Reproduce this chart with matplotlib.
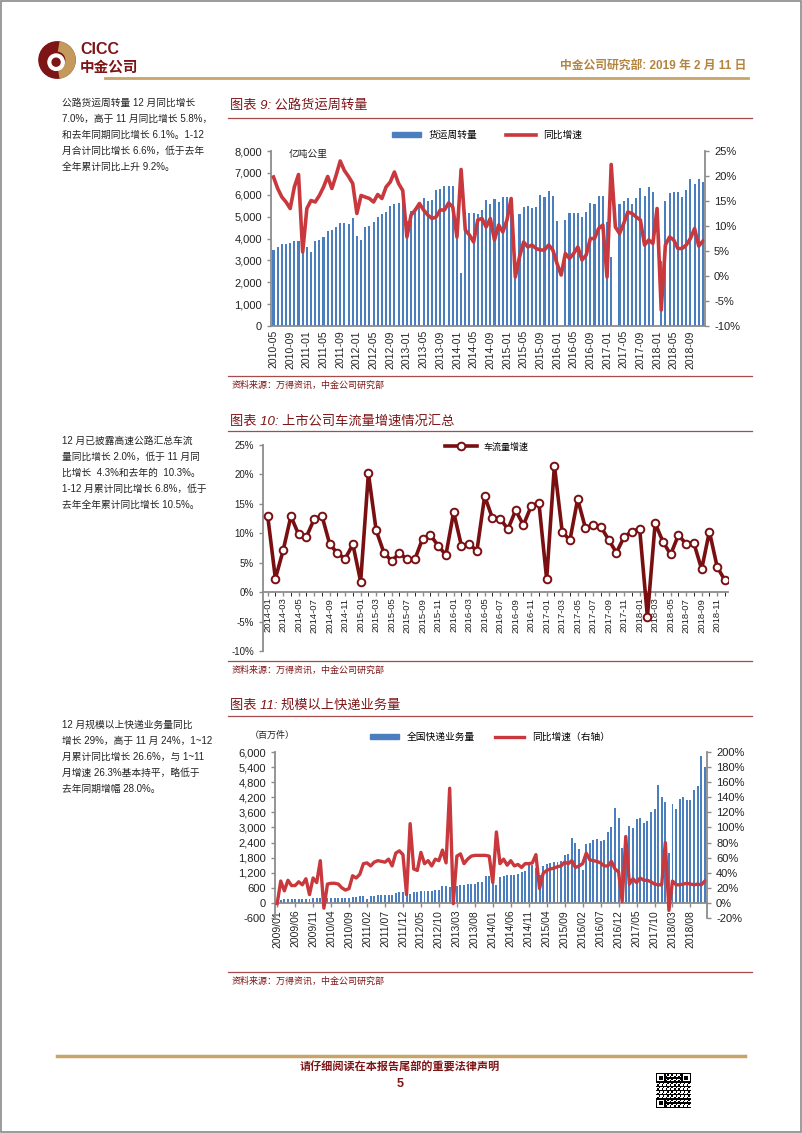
import numpy as np
import pandas as pd
import matplotlib
matplotlib.use('Agg')
import matplotlib.pyplot as plt
from matplotlib.patches import Rectangle, Circle, Wedge, Patch
from matplotlib.lines import Line2D
from matplotlib.ticker import FuncFormatter, MultipleLocator

plt.rcParams['font.family'] = ['Liberation Sans', 'Noto Sans CJK SC']
plt.rcParams['axes.unicode_minus'] = False

# ---------------- data ----------------
# Figure 9: road freight turnover (100m ton-km) and yoy growth (%)
freight_months = pd.date_range('2010-05', periods=104, freq='MS').strftime('%Y-%m').tolist()
freight_volume = [3480, 3620, 3750, 3740, 3800, 3880, 3880, 3850,
                  3620, 3400, 3880, 3920, 4080, 4350, 4380, 4520, 4700, 4720, 4660, 4950,
                  4100, 3950, 4520, 4560, 4750, 4980, 5100, 5200, 5500, 5600, 5620, 5830,
                  4780, 5250, 5400, 5600, 5850, 5700, 5750, 6200, 6280, 6380, 6400, 6420,
                  4100, 2430, 5200, 5150, 5150, 5100, 5300, 5750, 5600, 5820, 5650, 5900,
                  5880, 5200, 2800, 5100, 5450, 5500, 5400, 5450, 5980, 5900, 6180, 5950,
                  4790, np.nan, 4840, 5160, 5170, 5170, 5000, 5200, 5630, 5600, 5940, 5940,
                  4760, 3160, np.nan, 5570, 5700, 5830, 5600, 5830, 6290, 5940, 6360, 6130,
                  np.nan, 2950, 5700, 6060, 6130, 6130, 5900, 6200, 6740, 6500, 6740, 6600]
freight_yoy = [19.8, 17.5, 15.8, 14.8, 13.5, 17.8, 20.3, 4.8,
               13.5, 15.1, 14.8, 16.1, 17.8, 19.9, 17.5, 20.1, 23.0, 21.1, 19.9, 18.5,
               12.5, 16.1, 15.8, 15.5, 14.8, 16.3, 15.5, 17.8, 18.8, 20.8, 18.5, 17.1,
               7.8, 12.2, 13.2, 14.5, 13.2, 12.2, 11.5, 11.8, 13.2, 13.2, 14.6, 13.8,
               7.8, 21.3, 9.2, 8.2, 6.8, 11.2, 11.5, 9.8, 11.5, 7.2, 10.2, 8.8,
               11.2, 15.5, -0.2, 3.8, 6.8, 5.8, 6.2, 5.5, 5.2, 5.2, 6.2, 5.2,
               2.5, 0.2, 4.5, 3.5, 4.5, 5.8, 3.2, 4.2, 7.5, 7.5, 9.5, 10.2,
               -0.2, 22.3, 9.8, 8.5, 10.5, 12.8, 12.5, 11.8, 11.2, 6.2, 7.2, 6.5,
               13.5, -6.8, 6.2, 7.8, 7.2, 5.5, 5.5, 6.2, 7.5, 9.5, 6.0, 7.0]

# Figure 10: listed toll-road traffic growth (%)
traffic_months = pd.date_range('2014-01', periods=60, freq='MS').strftime('%Y-%m').tolist()
traffic_yoy = [13.0, 2.3, 7.1, 12.9, 9.8, 9.4, 12.4, 13.0, 8.2, 6.6, 5.7, 8.1,
               1.8, 20.2, 10.5, 6.7, 5.3, 6.6, 5.6, 5.6, 9.1, 9.7, 7.9, 6.3,
               13.6, 7.9, 8.2, 7.0, 16.3, 12.6, 12.5, 10.7, 13.9, 11.4, 14.6, 15.2,
               2.2, 21.5, 10.3, 8.8, 15.8, 10.9, 11.4, 11.1, 8.9, 6.7, 9.4, 10.3,
               10.8, -4.2, 11.7, 8.6, 6.4, 9.7, 8.2, 8.3, 3.9, 10.3, 4.3, 2.0]

# Figure 11: express parcels (million pieces) and yoy growth (%)
express_months = pd.date_range('2009-01', periods=120, freq='MS').strftime('%Y/%m').tolist()
express_volume = [130, 110, 140, 140, 140, 150, 150, 155, 165, 170, 190, 190,
                  190, 110, 180, 185, 190, 195, 195, 200, 210, 230, 250, 260,
                  270, 175, 285, 290, 300, 305, 305, 320, 320, 380, 430, 440,
                  310, 360, 420, 420, 490, 470, 480, 480, 510, 530, 660, 690,
                  650, 400, 690, 700, 730, 740, 740, 760, 820, 820, 1060, 1080,
                  1000, 700, 1030, 1060, 1110, 1120, 1110, 1140, 1230, 1270, 1500, 1510,
                  1400, 1100, 1450, 1530, 1600, 1620, 1640, 1680, 1900, 1940, 2600, 2400,
                  2150, 1300, 2350, 2400, 2520, 2560, 2480, 2520, 2820, 3020, 3780, 3380,
                  2200, 2550, 3050, 2990, 3330, 3380, 3180, 3260, 3600, 3750, 4700, 4200,
                  4000, 2000, 3950, 3750, 4150, 4200, 4080, 4100, 4500, 4650, 5850, 5400]
express_yoy = [-1, 29, 16, 30, 23, 23, 28, 24, 32, 11, 33, 27,
               56, -7, 25, 26, 26, 25, 20, 17, 19, 36, 33, 38,
               52, 53, 49, 54, 56, 55, 54, 58, 49, 66, 69, 64,
               11, 105, 45, 43, 67, 52, 56, 49, 58, 56, 70, 53,
               152, -1, 62, 65, 52, 58, 62, 63, 63, 63, 63, 62,
               27, 94, 52, 58, 50, 56, 49, 51, 47, 52, 52, 53,
               64, 19, 39, 43, 45, 46, 48, 49, 54, 52, 56, 47,
               49, 52, 66, 57, 56, 55, 53, 49, 49, 55, 45, 41,
               2, 88, 25, 32, 27, 33, 30, 30, 28, 25, 24, 24,
               80, -10, 29, 24, 24, 25, 26, 25, 24, 25, 24, 29]

left_notes = [
    ["公路货运周转量 12 月同比增长", "7.0%，高于 11 月同比增长 5.8%，",
     "和去年同期同比增长 6.1%。1-12", "月合计同比增长 6.6%，低于去年",
     "全年累计同比上升 9.2%。"],
    ["12 月已披露高速公路汇总车流", "量同比增长 2.0%，低于 11 月同",
     "比增长  4.3%和去年的  10.3%。", "1-12 月累计同比增长 6.8%，低于",
     "去年全年累计同比增长 10.5%。"],
    ["12 月规模以上快递业务量同比", "增长 29%，高于 11 月 24%，1~12",
     "月累计同比增长 26.6%，与 1~11", "月增速 26.3%基本持平，略低于",
     "去年同期增幅 28.0%。"],
]

# ---------------- page ----------------
W, H = 802, 1133
DARK = '#7d1416'
GOLD = '#c9a46a'
BLUE = '#4a7ebf'
RED = '#c8383c'
GRAY = '#8c8c8c'


def box(x0, y0, x1, y1):
    return [x0 / W, 1 - y1 / H, (x1 - x0) / W, (y1 - y0) / H]


def ftext(x, y, s, **kw):
    fig.text(x / W, 1 - y / H, s, **kw)


def hline(x0, x1, y, **kw):
    fig.add_artist(Line2D([x0 / W, x1 / W], [1 - y / H, 1 - y / H], **kw))


fig = plt.figure(figsize=(W / 100, H / 100), dpi=100)
fig.add_artist(Rectangle((0.001, 0.001), 0.998, 0.998, transform=fig.transFigure,
                         fill=False, edgecolor='#8a8a8a', lw=1.2))

# logo
lax = fig.add_axes(box(38, 40, 76, 80))
lax.add_patch(Circle((0, 0), 1.0, color=DARK))
lax.add_patch(Wedge((0, 0), 1.0, -80, 80, width=0.5, color='#c49a5c'))
lax.add_patch(Circle((-0.05, -0.12), 0.45, color='white'))
lax.add_patch(Circle((-0.05, -0.12), 0.22, color=DARK))
lax.set_xlim(-1.05, 1.05)
lax.set_ylim(-1.1, 1.1)
lax.axis('off')
ftext(80, 50, 'CICC', fontsize=11.5, fontweight='bold', color=DARK, va='center')
ftext(80, 68, '中金公司', fontsize=10.5, fontweight='bold', color=DARK, va='center')
ftext(746, 66, '中金公司研究部: 2019 年 2 月 11 日', fontsize=8.5, color='#b38440',
      ha='right', va='center', fontweight='bold')
hline(105, 748, 78, color=GOLD, lw=2)

# left column notes
for lines, y0 in zip(left_notes, [103, 441, 725]):
    for k, s in enumerate(lines):
        ftext(62, y0 + 16 * k, s, fontsize=7, color='#222222', va='center')

# chart titles and source lines
for title, yt, yl, ys in [('图表 9: 公路货运周转量', 105, 118, 376),
                          ('图表 10: 上市公司车流量增速情况汇总', 421, 431, 661),
                          ('图表 11: 规模以上快递业务量', 705, 716, 972)]:
    ftext(230, yt, title, fontsize=9.5, color=DARK, va='center', style='italic')
    hline(228, 752, yl, color='#a54b4b', lw=0.9)
    hline(228, 752, ys, color='#a54b4b', lw=0.9)
    ftext(232, ys + 9, '资料来源：万得资讯，中金公司研究部', fontsize=6.5, color=DARK,
          va='center', style='italic')


def style(ax, sides):
    for s in ['left', 'right', 'top', 'bottom']:
        ax.spines[s].set_visible(s in sides)
        ax.spines[s].set_color(GRAY)
        ax.spines[s].set_linewidth(1.3)
    ax.tick_params(colors=GRAY, labelcolor='#222222', length=3, width=1)


pct = FuncFormatter(lambda v, p: f'{v:.0f}%')
thou = FuncFormatter(lambda v, p: f'{v:,.0f}')

# ---------------- chart 9 ----------------
ax9 = fig.add_axes(box(271, 151, 705, 326))
x9 = np.arange(len(freight_months))
ax9.bar(x9, freight_volume, width=0.5, color=BLUE, zorder=2)
ax9.set_xlim(-0.6, 103.5)
ax9.set_ylim(0, 8000)
style(ax9, ['left', 'bottom'])
ax9.yaxis.set_major_locator(MultipleLocator(1000))
ax9.yaxis.set_major_formatter(thou)
ax9.set_xticks(x9[::4])
ax9.set_xticklabels(freight_months[::4], rotation=90)
ax9.tick_params(axis='y', labelsize=8)
ax9.tick_params(axis='x', labelsize=7.5, length=0, pad=3)
ax9.text(0.04, 0.985, '亿吨公里', transform=ax9.transAxes, fontsize=7, style='italic',
         va='center', color='#222222')
ax9r = ax9.twinx()
ax9r.plot(x9, freight_yoy, color=RED, lw=2.6, solid_joinstyle='round')
ax9r.set_ylim(-10, 25)
style(ax9r, ['right'])
ax9r.yaxis.set_major_locator(MultipleLocator(5))
ax9r.yaxis.set_major_formatter(pct)
ax9r.tick_params(axis='y', labelsize=8)
ax9.legend([Patch(color=BLUE), Line2D([], [], color=RED, lw=2.6)], ['货运周转量', '同比增速'],
           loc='center', bbox_to_anchor=(487 / W, 1 - 135 / H), bbox_transform=fig.transFigure,
           ncol=2, frameon=False, fontsize=7, handlelength=3, handleheight=0.5, columnspacing=3)

# ---------------- chart 10 ----------------
ax10 = fig.add_axes(box(263, 445, 728, 651))
x10 = np.arange(len(traffic_months))
style(ax10, ['left', 'bottom'])
ax10.spines['bottom'].set_position(('data', 0))
ax10.plot(x10, traffic_yoy, color='#7a0f12', lw=2.6, marker='o', ms=5.5,
          mfc='white', mec='#7a0f12', mew=1.4, label='车流量增速', zorder=3)
ax10.set_xlim(-0.6, 59.4)
ax10.set_ylim(-10, 25)
ax10.yaxis.set_major_locator(MultipleLocator(5))
ax10.yaxis.set_major_formatter(pct)
ax10.set_xticks(x10[::2])
ax10.set_xticklabels(traffic_months[::2], rotation=90, va='top')
ax10.set_xticks(x10, minor=True)
ax10.tick_params(axis='y', labelsize=7)
ax10.tick_params(axis='x', which='both', labelsize=6.8, length=3, pad=1)
ax10.legend(loc='center', bbox_to_anchor=(487 / W, 1 - 447 / H), bbox_transform=fig.transFigure,
            frameon=False, fontsize=6.5, handlelength=3.5)

# ---------------- chart 11 ----------------
ax11 = fig.add_axes(box(275, 752, 707, 918))
x11 = np.arange(len(express_months))
style(ax11, ['left', 'bottom'])
ax11.spines['bottom'].set_position(('data', 0))
ax11.bar(x11, express_volume, width=0.55, color=BLUE, zorder=2)
ax11.set_xlim(-0.6, 119.6)
ax11.set_ylim(-600, 6000)
ax11.yaxis.set_major_locator(MultipleLocator(600))
ax11.yaxis.set_major_formatter(thou)
ax11.set_xticks(x11[::5])
ax11.set_xticklabels(express_months[::5], rotation=90, va='top')
ax11.tick_params(axis='y', labelsize=8)
ax11.tick_params(axis='x', labelsize=7.5, length=3, pad=2)
ax11r = ax11.twinx()
ax11r.plot(x11, express_yoy, color=RED, lw=2.4, solid_joinstyle='round')
ax11r.set_ylim(-20, 200)
style(ax11r, ['right'])
ax11r.yaxis.set_major_locator(MultipleLocator(20))
ax11r.yaxis.set_major_formatter(pct)
ax11r.tick_params(axis='y', labelsize=8)
ftext(250, 735, '（百万件）', fontsize=6.5, color='#222222', va='center')
ax11.legend([Patch(color=BLUE), Line2D([], [], color=RED, lw=2.4)], ['全国快递业务量', '同比增速（右轴）'],
            loc='center', bbox_to_anchor=(490 / W, 1 - 737 / H), bbox_transform=fig.transFigure,
            ncol=2, frameon=False, fontsize=7, handlelength=3, handleheight=0.5, columnspacing=2)

# ---------------- footer ----------------
hline(57, 745, 1056, color=GOLD, lw=2.5)
ftext(400, 1067, '请仔细阅读在本报告尾部的重要法律声明', fontsize=8, color=DARK,
      ha='center', va='center', fontweight='bold', style='italic')
ftext(400, 1084, '5', fontsize=9, color=DARK, ha='center', va='center', fontweight='bold')

# qr code decoration
n = 25
ii, jj = np.meshgrid(np.arange(n), np.arange(n), indexing='ij')
qr = ((ii * ii + 3 * jj + ii * jj) % 3 == 0).astype(float)
for r0, c0 in [(0, 0), (0, n - 7), (n - 7, 0)]:
    qr[r0:r0 + 7, c0:c0 + 7] = 1
    qr[r0 + 1:r0 + 6, c0 + 1:c0 + 6] = 0
    qr[r0 + 2:r0 + 5, c0 + 2:c0 + 5] = 1
qax = fig.add_axes(box(656, 1073, 691, 1108))
qax.imshow(qr, cmap='gray_r', interpolation='nearest')
qax.axis('off')

fig.savefig('out.png', dpi=100)
